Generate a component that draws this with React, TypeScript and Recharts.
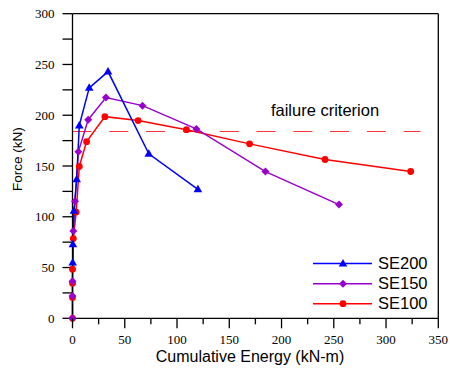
import React from 'react';
import { LineChart, Line, XAxis, YAxis, Legend } from 'recharts';

// ---- data ----
const se200Energy = [0.2, 0.4, 1.4, 4.0, 6.5, 16, 34, 73, 120];
const se200Force = [55, 73, 106, 137, 190, 227, 243, 162, 127];

const se150Energy = [0, 0, 0, 0.8, 2.4, 5.6, 15, 32, 67, 118.5, 184.6, 255];
const se150Force = [0, 22, 36.6, 86, 115.4, 164, 195.6, 217.5, 209.4, 186.5, 144.5, 112];

const se100Energy = [0, 0, 0, 0, 0.8, 3.5, 6.5, 13.5, 31, 62.8, 109, 169.4, 241.6, 323.6];
const se100Force = [0, 20.6, 34.4, 48.4, 78.5, 104.6, 149.5, 174, 198.6, 194.7, 185.8, 171.8, 156.4, 144.6];

const failureEnergy = [0, 333];
const failureForce = [184, 184];
const failureText = 'failure criterion';

const xTicks = [0, 25, 50, 75, 100, 125, 150, 175, 200, 225, 250, 275, 300, 325, 350];
const yTicks = [0, 25, 50, 75, 100, 125, 150, 175, 200, 225, 250, 275, 300];

const seriesNames = ['SE200', 'SE150', 'SE100'];
const seriesColors = ['#0000FF', '#9900CC', '#FF0000'];
const failureColor = '#FF3333';

const xTitle = 'Cumulative Energy (kN-m)';
const yTitle = 'Force (kN)';

const toPoints = (e: number[], f: number[]) => e.map((v, i) => ({ energy: v, force: f[i] }));
const se200Data = toPoints(se200Energy, se200Force);
const se150Data = toPoints(se150Energy, se150Force);
const se100Data = toPoints(se100Energy, se100Force);
const failureData = toPoints(failureEnergy, failureForce);

const SERIF = 'Liberation Serif';
const SANS = 'Liberation Sans';

const renderXTick = (props: any) => {
  const { x, y, payload } = props;
  const v = payload.value;
  const major = v % 50 === 0;
  return (
    <g key={`xt${v}`}>
      <line x1={x} x2={x} y1={y} y2={y + (major ? 10 : 6)} stroke="#000" strokeWidth={1.3} />
      {major && (
        <text x={x} y={y + 26} textAnchor="middle" fontFamily={SERIF} fontSize={13} fill="#000">{v}</text>
      )}
    </g>
  );
};

const yTickFormatter = (v: number) => (v % 50 === 0 ? String(v) : '');

const triangle = (cx: number, cy: number, color: string, key?: any) => (
  <polygon key={key} points={`${cx},${cy - 4.5} ${cx - 4.3},${cy + 3} ${cx + 4.3},${cy + 3}`} fill={color} />
);
const diamond = (cx: number, cy: number, color: string, key?: any) => (
  <polygon key={key} points={`${cx},${cy - 4} ${cx + 4},${cy} ${cx},${cy + 4} ${cx - 4},${cy}`} fill={color} />
);
const circle = (cx: number, cy: number, color: string, key?: any) => (
  <circle key={key} cx={cx} cy={cy} r={3.4} fill={color} />
);
const markers = [triangle, diamond, circle];

// legend, axis titles and the annotation, drawn in the legend overlay
const renderLegend = () => {
  const rows = [263.5, 283.7, 303.7];
  return (
    <svg width={452} height={372} style={{ position: 'absolute', left: 0, top: 0 }}>
      {seriesNames.map((name, i) => (
        <g key={name}>
          <line x1={313} x2={372} y1={rows[i]} y2={rows[i]} stroke={seriesColors[i]} strokeWidth={1.5} />
          {markers[i](343, rows[i], seriesColors[i])}
          <text x={378} y={rows[i] + 5.5} fontFamily={SANS} fontSize={16.5} fill="#000">{name}</text>
        </g>
      ))}
      <text x={325} y={116} textAnchor="middle" fontFamily={SANS} fontSize={16.5} fill="#000">{failureText}</text>
      <text x={250} y={362} textAnchor="middle" fontFamily={SANS} fontSize={16} fill="#000">{xTitle}</text>
      <text x={22} y={159.2} transform="rotate(-90 22 159.2)" textAnchor="middle" fontFamily={SANS}
        fontSize={13.5} fill="#000">{yTitle}</text>
    </svg>
  );
};

export default function App() {
  return (
    <div style={{ position: 'absolute', left: 0, top: 0, width: 452, height: 372 }}>
      <LineChart width={452} height={372} margin={{ top: 12.7, right: 12.7, bottom: 0, left: 0 }}>
        <XAxis xAxisId="main" type="number" dataKey="energy" domain={[0, 350]} ticks={xTicks} interval={0}
          height={53.7} tickSize={0} tickMargin={0} tickLine={false} tick={renderXTick}
          stroke="#000" strokeWidth={1.3} />
        <XAxis xAxisId="top" orientation="top" type="number" domain={[0, 350]} height={1}
          tick={false} tickLine={false} stroke="#000" strokeWidth={1.3} />
        <YAxis yAxisId="main" type="number" domain={[0, 300]} ticks={yTicks} interval={0} width={72.5}
          tickSize={10} tickMargin={8} tickFormatter={yTickFormatter}
          tick={{ fontFamily: SERIF, fontSize: 13, fill: '#000' }}
          stroke="#000" strokeWidth={1.3} />
        <YAxis yAxisId="right" orientation="right" type="number" domain={[0, 300]} width={1}
          tick={false} tickLine={false} stroke="#000" strokeWidth={1.3} />

        <Line xAxisId="main" yAxisId="main" data={failureData} dataKey="force" name={failureText} type="linear"
          stroke={failureColor} strokeWidth={1.2} strokeDasharray="19 17.8" dot={false} isAnimationActive={false}
          legendType="none" />
        <Line xAxisId="main" yAxisId="main" data={se100Data} dataKey="force" name={seriesNames[2]} type="linear"
          stroke={seriesColors[2]} strokeWidth={1.5} isAnimationActive={false}
          dot={(p: any) => circle(p.cx, p.cy, seriesColors[2], `c${p.index}`)} />
        <Line xAxisId="main" yAxisId="main" data={se150Data} dataKey="force" name={seriesNames[1]} type="linear"
          stroke={seriesColors[1]} strokeWidth={1.4} isAnimationActive={false}
          dot={(p: any) => diamond(p.cx, p.cy, seriesColors[1], `d${p.index}`)} />
        <Line xAxisId="main" yAxisId="main" data={se200Data} dataKey="force" name={seriesNames[0]} type="linear"
          stroke={seriesColors[0]} strokeWidth={1.5} isAnimationActive={false}
          dot={(p: any) => triangle(p.cx, p.cy, seriesColors[0], `t${p.index}`)} />

        <Legend layout="horizontal" verticalAlign="middle" align="center"
          wrapperStyle={{ position: 'absolute', left: 0, top: 0, width: 452, height: 372, pointerEvents: 'none' }}
          content={renderLegend} />
      </LineChart>
    </div>
  );
}
